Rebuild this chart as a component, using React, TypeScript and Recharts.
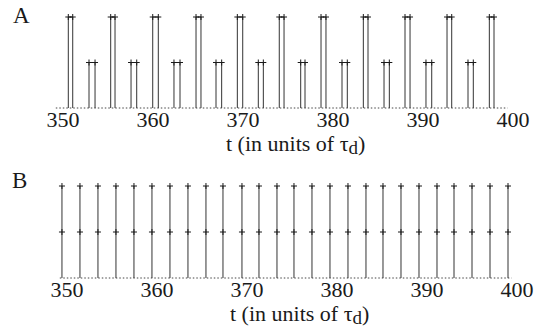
import React from 'react';
import { LineChart, Line, XAxis, YAxis, Label } from 'recharts';

// time axis
const tickValues = [350, 360, 370, 380, 390, 400];

// panel A: tall pulses (height 1) and medium pulses (height 0.5), start / end times
const tallStarts = [350.59, 355.3, 359.97, 364.78, 369.37, 374.03, 378.67, 383.37, 388.0, 392.67, 397.37];
const tallEnds = [351.08, 355.78, 360.59, 365.33, 369.97, 374.56, 379.22, 383.89, 388.56, 393.19, 397.89];
const midStarts = [352.89, 357.56, 362.33, 367.0, 371.7, 376.41, 381.0, 385.67, 390.33, 395.0];
const midEnds = [353.56, 358.19, 363.0, 367.63, 372.26, 376.89, 381.59, 386.26, 390.97, 395.59];
const tallHeight = 1;
const midHeight = 0.5;

// panel B: regular spikes
const spikeTimes = [
  349.44, 351.44, 353.44, 355.44, 357.44, 359.44, 361.44, 363.44, 365.44, 367.33,
  369.44, 371.33, 373.33, 375.22, 377.22, 379.22, 381.22, 383.22, 385.11, 387.11,
  389.11, 391.11, 393.0, 395.0, 397.0, 399.0,
];
const spikeLevels = [0, 0.5, 1];

const baselineA = [349.2, 399.4];
const baselineB = [349.2, 399.4];

type Pt = { t: number; y: number | null };

const pulse = (s: number, e: number, h: number): Pt[] => [
  { t: s, y: 0 },
  { t: s, y: h },
  { t: e, y: h },
  { t: e, y: 0 },
  { t: e, y: null },
];

const pulsesA: Pt[] = [
  ...tallStarts.map((s, i) => ({ s, e: tallEnds[i], h: tallHeight })),
  ...midStarts.map((s, i) => ({ s, e: midEnds[i], h: midHeight })),
]
  .sort((a, b) => a.s - b.s)
  .flatMap(p => pulse(p.s, p.e, p.h));

const spikesB: Pt[] = spikeTimes.flatMap(t => [
  ...spikeLevels.map(y => ({ t, y })),
  { t, y: null },
]);

const baseA: Pt[] = baselineA.map(t => ({ t, y: 0 }));
const baseB: Pt[] = baselineB.map(t => ({ t, y: 0 }));

const FONT = "'Liberation Serif', 'Times New Roman', serif";
const INK = '#1a1a1a';

const Plus = (props: any) => {
  const { cx, cy, payload, index } = props;
  if (payload == null || payload.y == null || payload.y <= 0 || cx == null || cy == null) {
    return <g key={`n-${index}`} />;
  }
  return (
    <path
      key={`p-${index}`}
      d={`M${cx - 3},${cy}h6M${cx},${cy - 3}v6`}
      stroke={INK}
      strokeWidth={1}
      fill="none"
    />
  );
};

const AxisTitle = (dy: number) => (props: any) => {
  const vb = props.viewBox || {};
  return (
    <text
      x={(vb.x ?? 0) + 181}
      y={(vb.y ?? 0) + dy}
      fontFamily={FONT}
      fontSize={22}
      fill={INK}
    >
      <tspan>t (in units of τ</tspan>
      <tspan dy={3} fontSize={19}>d</tspan>
      <tspan dy={-3}>)</tspan>
    </text>
  );
};

const Panel: React.FC<{ top: number; left: number; right: number; marginTop: number; bottom: number; pulses: Pt[]; base: Pt[]; titleDy: number }> = ({
  top, left, right, marginTop, bottom, pulses, base, titleDy,
}) => (
  <div style={{ position: 'absolute', left: 0, top }}>
    <LineChart width={542} height={164} margin={{ top: marginTop, right, bottom, left }}>
      <XAxis
        dataKey="t"
        type="number"
        domain={[348, 402]}
        ticks={tickValues}
        axisLine={false}
        tickLine={false}
        tickSize={0}
        tickMargin={3}
        height={30}
        tick={{ fontSize: 22, fill: INK, fontFamily: FONT }}
      >
        <Label content={AxisTitle(titleDy)} />
      </XAxis>
      <YAxis hide domain={[0, 1]} />
      <Line
        data={base}
        dataKey="y"
        stroke="#444"
        strokeWidth={1}
        strokeDasharray="1.5 2"
        dot={false}
        activeDot={false}
        isAnimationActive={false}
      />
      <Line
        data={pulses}
        dataKey="y"
        type="linear"
        stroke="#333"
        strokeWidth={1}
        dot={Plus}
        activeDot={false}
        connectNulls={false}
        isAnimationActive={false}
      />
    </LineChart>
  </div>
);

export default function App() {
  return (
    <div style={{ position: 'absolute', left: 0, top: 0, width: 542, height: 328, background: '#fff', overflow: 'hidden' }}>
      <Panel top={0} left={45} right={11} marginTop={17} bottom={26} pulses={pulsesA} base={baseA} titleDy={43} />
      <Panel top={164} left={49} right={7} marginTop={22} bottom={20} pulses={spikesB} base={baseB} titleDy={43} />
      <svg width={542} height={328} style={{ position: 'absolute', left: 0, top: 0, pointerEvents: 'none' }}>
        <text x={13} y={23} fontFamily={FONT} fontSize={23} fill={INK}>A</text>
        <text x={12} y={188} fontFamily={FONT} fontSize={23} fill={INK}>B</text>
      </svg>
    </div>
  );
}
